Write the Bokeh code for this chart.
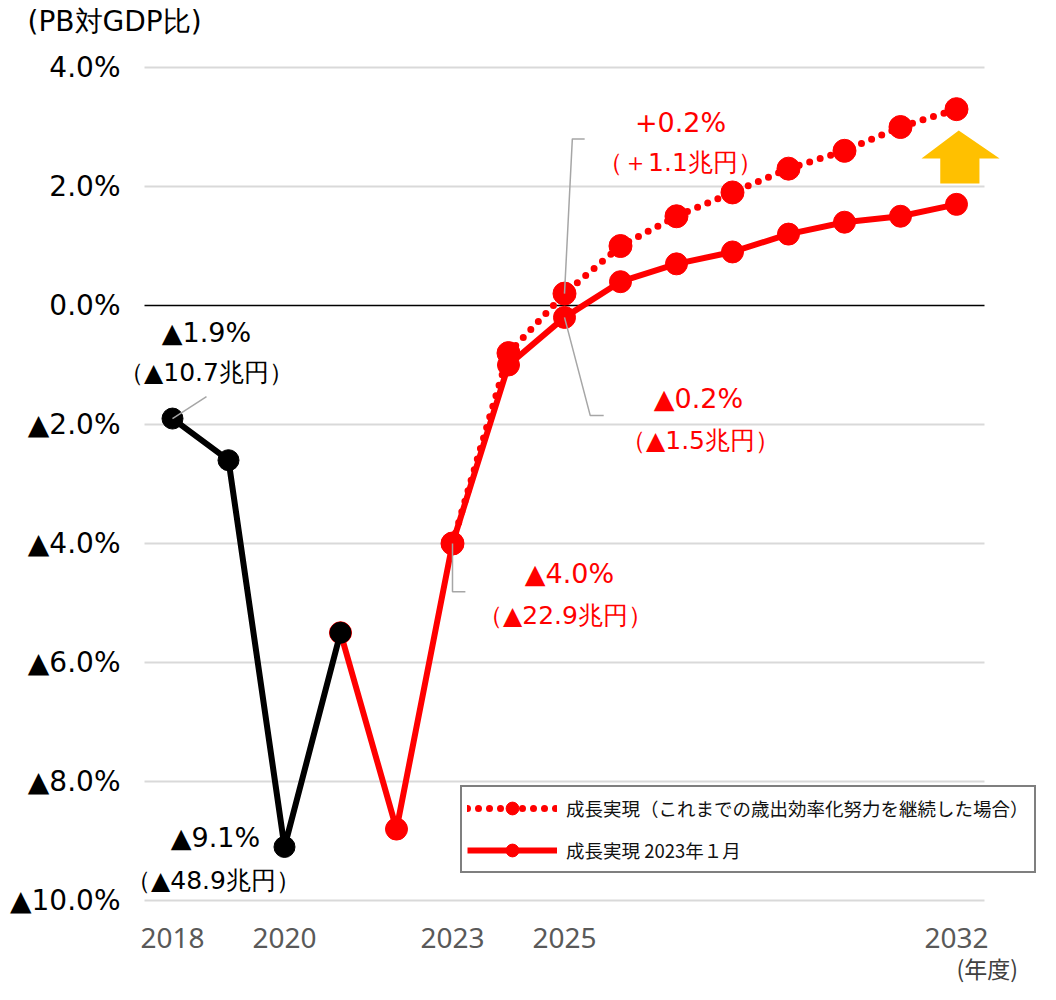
from bokeh.plotting import figure
from bokeh.models import (FixedTicker, Label, PolyAnnotation, Legend,
                          LegendItem, Range1d, LinearAxis)
from bokeh.embed import file_html
from bokeh.resources import INLINE

# ---------------- data ----------------
actual_years = [2018, 2019, 2020, 2021]
actual_vals = [-1.9, -2.6, -9.1, -5.5]

base_years = [2021, 2022, 2023, 2024, 2025, 2026, 2027, 2028, 2029, 2030, 2031, 2032]
base_vals = [-5.5, -8.8, -4.0, -1.0, -0.2, 0.4, 0.7, 0.9, 1.2, 1.4, 1.5, 1.7]

eff_years = [2023, 2024, 2025, 2026, 2027, 2028, 2029, 2030, 2031, 2032]
eff_vals = [-4.0, -0.8, 0.2, 1.0, 1.5, 1.9, 2.3, 2.6, 3.0, 3.3]

x_ticks = [2018, 2020, 2023, 2025, 2032]
y_ticks = [-10, -8, -6, -4, -2, 0, 2, 4]
y_tick_labels = ["▲10.0%", "▲8.0%", "▲6.0%", "▲4.0%", "▲2.0%", "0.0%", "2.0%", "4.0%"]

legend_eff = "成長実現（これまでの歳出効率化努力を継続した場合）"
legend_base = "成長実現 2023年１月"
y_title = "(PB対GDP比)"
x_title = "(年度)"

RED = "#FF0000"
GRAY_LEADER = "#A6A6A6"

# category span shown by the gridlines
X_LO, X_HI = 2017.5, 2032.5

p = figure(width=1040, height=984,
           x_range=Range1d(2014.9286, 2033.5), y_range=Range1d(-11.4118, 5.1261),
           output_backend="svg", toolbar_location=None,
           min_border_left=0, min_border_right=0,
           min_border_top=0, min_border_bottom=0)
p.title.text = ""
p.title.visible = False
p.outline_line_color = None
p.background_fill_color = "white"
p.border_fill_color = "white"
p.xgrid.visible = False
p.ygrid.visible = False

# axes (drawn at fixed spots inside the drawing area)
p.xaxis.ticker = FixedTicker(ticks=x_ticks)
p.xaxis.fixed_location = -10.084
p.yaxis.ticker = FixedTicker(ticks=y_ticks)
p.yaxis.fixed_location = 2017.1607
p.yaxis.major_label_overrides = {t: l for t, l in zip(y_ticks, y_tick_labels)}
for ax in (p.xaxis[0], p.yaxis[0]):
    ax.axis_line_color = None
    ax.major_tick_line_color = None
    ax.minor_tick_line_color = None
    ax.major_tick_out = 0
    ax.major_tick_in = 0
    ax.minor_tick_out = 0
p.yaxis.major_label_text_font = "DejaVu Sans"
p.yaxis.major_label_text_font_size = "28px"
p.yaxis.major_label_text_color = "#000000"
p.yaxis.major_label_standoff = 5
p.xaxis.major_label_text_font = "Noto Sans"
p.xaxis.major_label_text_font_size = "28px"
p.xaxis.major_label_text_color = "#595959"
p.xaxis.major_label_standoff = 23

# unit label for x, as an extra axis at a fixed spot
unit_tick = 2032.55
x_unit_axis = LinearAxis(ticker=FixedTicker(ticks=[unit_tick]),
                         major_label_overrides={unit_tick: x_title},
                         fixed_location=-10.773,
                         axis_line_color=None, major_tick_line_color=None,
                         minor_tick_line_color=None, major_tick_out=0,
                         major_tick_in=0, minor_tick_out=0,
                         major_label_standoff=5,
                         major_label_text_font="Noto Sans CJK JP",
                         major_label_text_font_size="23px",
                         major_label_text_color="#404040")
p.add_layout(x_unit_axis, "below")

# gridlines
grid_y = [t for t in y_ticks if t != 0]
p.segment(x0=[X_LO] * len(grid_y), x1=[X_HI] * len(grid_y), y0=grid_y, y1=grid_y,
          line_color="#D9D9D9", line_width=2)
p.segment(x0=[X_LO], x1=[X_HI], y0=[0], y1=[0], line_color="black", line_width=1.5)

# series
r_base_line = p.line(base_years, base_vals, line_color=RED, line_width=6,
                     line_join="round")
r_base_pts = p.scatter(base_years, base_vals, size=22, color=RED)

r_eff_line = p.line(eff_years, eff_vals, line_color=RED, line_width=7,
                    line_dash="0 11", line_cap="round")
r_eff_pts = p.scatter(eff_years, eff_vals, size=23, color=RED)

r_act_line = p.line(actual_years, actual_vals, line_color="black", line_width=6,
                    line_join="round")
r_act_pts = p.scatter(actual_years, actual_vals, size=21, color="black")

# up arrow beside the last point (offsets in data units from 2032)
ax0 = eff_years[-1]
arrow_dx = [0.04, 0.77, 0.41, 0.41, -0.29, -0.29, -0.625]
arrow_y = [2.94, 2.47, 2.47, 2.05, 2.05, 2.47, 2.47]
p.add_layout(PolyAnnotation(xs=[ax0 + d for d in arrow_dx], ys=arrow_y,
                            fill_color="#FFC000", fill_alpha=1,
                            line_color=None, level="overlay"))

# leader lines
p.line([2018, 2018.607], [actual_vals[0], -1.53], line_color=GRAY_LEADER, line_width=1.5)
p.line([2023, 2023, 2023.23], [-4.0, -4.81, -4.81], line_color=GRAY_LEADER, line_width=1.5)
p.line([2025, 2025.14, 2025.36], [0.2, 2.8, 2.8], line_color=GRAY_LEADER, line_width=1.5)
p.line([2025, 2025.46, 2025.70], [-0.2, -1.85, -1.85], line_color=GRAY_LEADER, line_width=1.5)

# annotations: (x, y, x_off, y_off, text, color, size)
notes = [
    (2018, -1.9, 34, 86, "▲1.9%", "black", "27px"),
    (2018, -1.9, 34, 46, "（▲10.7兆円）", "black", "25px"),
    (2020, -9.1, -69, 9, "▲9.1%", "black", "27px"),
    (2020, -9.1, -71, -34, "（▲48.9兆円）", "black", "25px"),
    (2023, -4.0, 117, -30, "▲4.0%", RED, "27px"),
    (2023, -4.0, 113, -72, "（▲22.9兆円）", RED, "25px"),
    (2025, 0.2, 116, 171, "+0.2%", RED, "27px"),
    (2025, 0.2, 116, 131, "（＋1.1兆円）", RED, "25px"),
    (2025, -0.2, 134, -81, "▲0.2%", RED, "27px"),
    (2025, -0.2, 136, -123, "（▲1.5兆円）", RED, "25px"),
]
for x, y, xo, yo, t, c, s in notes:
    p.add_layout(Label(x=x, y=y, x_offset=xo, y_offset=yo, text=t,
                       text_color=c, text_font_size=s, text_font="DejaVu Sans",
                       text_align="center", text_baseline="middle"))

# y unit label, above the top tick
p.add_layout(Label(x=X_LO, y=y_ticks[-1], x_offset=-117, y_offset=46, text=y_title,
                   text_font="DejaVu Sans", text_font_size="28px", text_color="black",
                   text_align="left", text_baseline="middle"))

legend = Legend(items=[LegendItem(label=legend_eff, renderers=[r_eff_line, r_eff_pts]),
                       LegendItem(label=legend_base, renderers=[r_base_line, r_base_pts])],
                location=(460, 111), orientation="vertical",
                glyph_width=90, glyph_height=32, label_height=32, spacing=10,
                padding=5, margin=0, label_standoff=9,
                label_text_font="Noto Sans CJK JP", label_text_font_size="18.5px",
                label_text_color="#111111",
                border_line_color="black", border_line_width=2,
                background_fill_color="white", background_fill_alpha=1)
p.add_layout(legend)

open("out.html", "w").write(file_html(p, INLINE))
